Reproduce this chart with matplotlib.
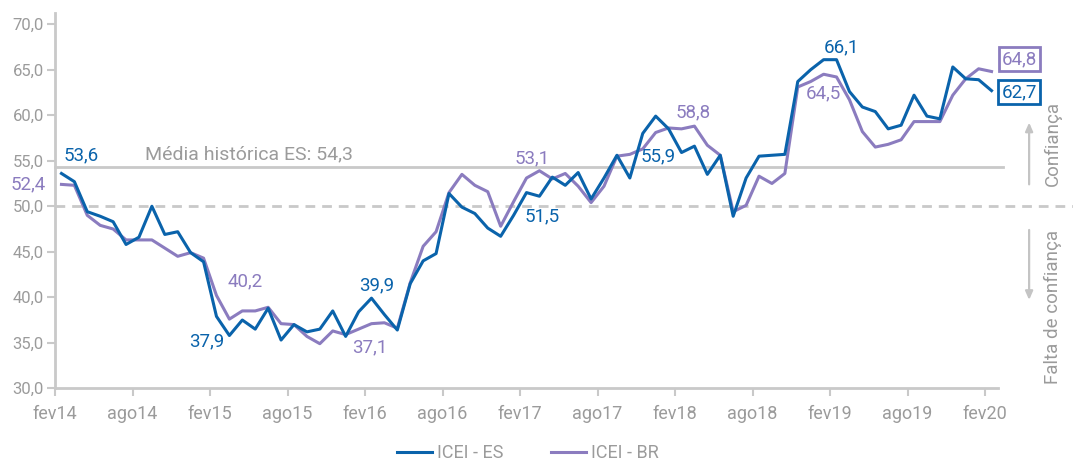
import matplotlib
matplotlib.use("Agg")
import matplotlib.pyplot as plt

plt.rcParams['font.family'] = ['Roboto', 'DejaVu Sans']

# Monthly series, fev/2014 .. fev/2020
months = ["fev14", "ago14", "fev15", "ago15", "fev16", "ago16", "fev17",
          "ago17", "fev18", "ago18", "fev19", "ago19", "fev20"]

icei_es = [53.6, 52.7, 49.4, 48.9, 48.3, 45.8, 46.6, 50.0, 46.9, 47.2, 44.9, 43.9,
           37.9, 35.8, 37.5, 36.5, 38.8, 35.3, 37.0, 36.2, 36.5, 38.5, 35.7, 38.4,
           39.9, 38.1, 36.4, 41.5, 44.0, 44.8, 51.4, 49.9, 49.2, 47.6, 46.7, 49.0,
           51.5, 51.1, 53.2, 52.3, 53.7, 50.8, 53.1, 55.6, 53.1, 58.0, 59.9, 58.5,
           55.9, 56.6, 53.5, 55.6, 48.9, 53.1, 55.5, 55.6, 55.7, 63.7, 65.0, 66.1,
           66.1, 62.6, 60.9, 60.4, 58.5, 58.9, 62.2, 59.9, 59.6, 65.3, 64.0, 63.9,
           62.7]

icei_br = [52.4, 52.3, 49.0, 47.9, 47.5, 46.3, 46.3, 46.3, 45.4, 44.5, 44.9, 44.3,
           40.2, 37.6, 38.5, 38.5, 38.9, 37.1, 37.0, 35.7, 34.9, 36.3, 35.9, 36.5,
           37.1, 37.2, 36.6, 41.6, 45.6, 47.2, 51.5, 53.5, 52.3, 51.6, 47.8, 50.5,
           53.1, 53.9, 53.0, 53.6, 52.2, 50.4, 52.2, 55.5, 55.7, 56.3, 58.1, 58.6,
           58.5, 58.8, 56.7, 55.6, 49.4, 50.1, 53.3, 52.5, 53.6, 63.1, 63.7, 64.5,
           64.2, 61.7, 58.2, 56.5, 56.8, 57.3, 59.3, 59.3, 59.3, 62.2, 64.0, 65.1,
           64.8]

media_historica_es = 54.3
limiar = 50.0

# (index, offset in points) for the value labels
labels_es = [(0, (14, 13)), (12, (-7, -18)), (24, (4, 9)), (36, (11, -17)),
             (48, (-17, -3)), (59, (13, 9))]
labels_br = [(0, (-24, 0)), (12, (21, 10)), (24, (-1, -17)), (36, (4, 14)),
             (49, (-1, 10)), (59, (0, -14))]

BLUE = "#0a63ab"
PURPLE = "#8b7cbf"
GREY_TXT = "#9b9b9b"
GREY_LINE = "#c9c9c9"

fig = plt.figure(figsize=(10.73, 4.63), dpi=100)
ax = fig.add_axes([55 / 1073, 74.7 / 463, 943 / 1073, 375.5 / 463])

x = list(range(len(icei_es)))

# reference lines
ax.plot([-0.5, 72.9], [media_historica_es] * 2, color=GREY_LINE, lw=2.0,
        clip_on=False, zorder=1)
ax.plot([-0.5, 78.3], [limiar] * 2, color=GREY_LINE, lw=2.0, ls=(0, (3.5, 2.5)),
        clip_on=False, zorder=1)

ax.plot(x, icei_br, color=PURPLE, lw=2.2, zorder=3, label="ICEI - BR")
ax.plot(x, icei_es, color=BLUE, lw=2.2, zorder=4, label="ICEI - ES")

ax.text(6.5, media_historica_es + 0.4, "Média histórica ES: 54,3",
        color=GREY_TXT, fontsize=14, va="bottom", ha="left")

def fmt(v):
    return f"{v:.1f}".replace(".", ",")

for i, off in labels_es:
    ax.annotate(fmt(icei_es[i]), (x[i], icei_es[i]), xytext=off,
                textcoords="offset points", ha="center", va="center",
                color=BLUE, fontsize=13.5, zorder=6, annotation_clip=False)
for i, off in labels_br:
    ax.annotate(fmt(icei_br[i]), (x[i], icei_br[i]), xytext=off,
                textcoords="offset points", ha="center", va="center",
                color=PURPLE, fontsize=13.5, zorder=6, annotation_clip=False)

# last values in boxes
last = len(icei_es) - 1
ax.annotate(fmt(icei_br[last]), (x[last], icei_br[last]), xytext=(20, 9),
            textcoords="offset points", ha="center", va="center", color=PURPLE,
            fontsize=13.5, annotation_clip=False,
            bbox=dict(boxstyle="square,pad=0.17", fc="white", ec=PURPLE, lw=2))
ax.annotate(fmt(icei_es[last]), (x[last], icei_es[last]), xytext=(20, -1),
            textcoords="offset points", ha="center", va="center", color=BLUE,
            fontsize=13.5, annotation_clip=False,
            bbox=dict(boxstyle="square,pad=0.17", fc="white", ec=BLUE, lw=2))

# confidence arrows and captions
arrow_kw = dict(arrowstyle="-|>,head_length=0.5,head_width=0.22",
                color="#c4c4c4", lw=1.6)
ax.annotate("", xy=(1.033, 59.5), xytext=(1.033, 52.1),
            xycoords=("axes fraction", "data"), arrowprops=arrow_kw,
            annotation_clip=False)
ax.annotate("", xy=(1.033, 39.4), xytext=(1.033, 47.7),
            xycoords=("axes fraction", "data"), arrowprops=arrow_kw,
            annotation_clip=False)
ax.text(1.058, 56.9, "Confiança", transform=ax.get_yaxis_transform(),
        rotation=90, ha="center", va="center", color=GREY_TXT, fontsize=13.5,
        clip_on=False)
ax.text(1.058, 38.9, "Falta de confiança", transform=ax.get_yaxis_transform(),
        rotation=90, ha="center", va="center", color=GREY_TXT, fontsize=13.5,
        clip_on=False)

# axes
ax.set_xlim(-0.5, 72.5)
ax.set_ylim(30, 71.25)
ax.set_yticks([30, 35, 40, 45, 50, 55, 60, 65, 70])
ax.set_yticklabels([fmt(v) for v in [30, 35, 40, 45, 50, 55, 60, 65, 70]])
ax.set_xticks([i * 6 - 0.5 for i in range(len(months))])
ax.set_xticklabels(months)

for s in ["top", "right"]:
    ax.spines[s].set_visible(False)
for s in ["left", "bottom"]:
    ax.spines[s].set_color(GREY_LINE)
    ax.spines[s].set_linewidth(2)
ax.tick_params(axis="both", colors=GREY_LINE, width=1.5, length=6,
               labelcolor=GREY_TXT)
ax.tick_params(axis="x", pad=6, labelsize=13)
ax.tick_params(axis="y", pad=2, labelsize=12)

handles, lbls = ax.get_legend_handles_labels()
order = [1, 0]
fig.legend([handles[k] for k in order], [lbls[k] for k in order],
           loc="center", bbox_to_anchor=(528 / 1073, 1 - 453 / 463), ncol=2,
           frameon=False, fontsize=13, labelcolor=GREY_TXT, handlelength=1.95,
           columnspacing=2.6, handletextpad=0.3)

fig.savefig("out.png", dpi=100)
